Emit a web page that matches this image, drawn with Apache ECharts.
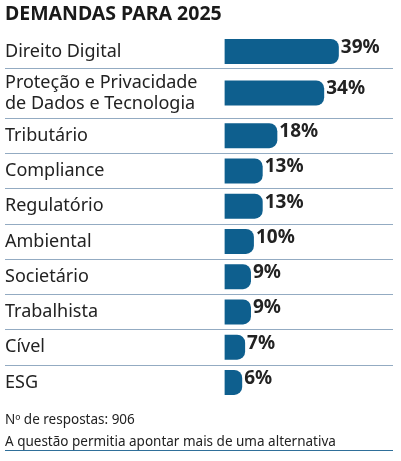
<!DOCTYPE html>
<html>
<head>
<meta charset="utf-8">
<script src="https://cdn.jsdelivr.net/npm/echarts@6/dist/echarts.min.js"></script>
<style>
  html, body { margin: 0; padding: 0; background: #fff; }
  #container { width: 401px; height: 461px; }
</style>
</head>
<body>
<div id="container"></div>
<script>
// dados do gráfico
var titleText = 'DEMANDAS PARA 2025';
var categories = ['Direito Digital', 'Proteção e Privacidade\nde Dados e Tecnologia', 'Tributário', 'Compliance',
  'Regulatório', 'Ambiental', 'Societário', 'Trabalhista', 'Cível', 'ESG'];
var values = [39, 34, 18, 13, 13, 10, 9, 9, 7, 6];
var notes = ['Nº de respostas: 906', 'A questão permitia apontar mais de uma alternativa'];

var myChart = echarts.init(document.getElementById('container'));

var barColor = '#0e5f8e';
var lineColor = '#93abc2';
var font = 'Noto Sans';

// primeira linha, segunda (duas linhas de texto), resto
var blocks = [
  { from: 0, to: 1, top: 35, height: 33 },
  { from: 1, to: 2, top: 68, height: 50 },
  { from: 2, to: 10, top: 118, height: 282 }
];

var grids = [], xAxes = [], yAxes = [], series = [];
blocks.forEach(function (b, i) {
  var n = b.to - b.from;
  var colors = ['transparent'];
  for (var k = 1; k < n; k++) colors.push(lineColor);
  colors.push(i < 2 ? lineColor : 'transparent');

  grids.push({ left: 5, right: 8, top: b.top, height: b.height });
  xAxes.push({
    type: 'value', gridIndex: i, min: -75, max: 57.5, show: false
  });
  yAxes.push({
    type: 'category', gridIndex: i, inverse: true,
    data: categories.slice(b.from, b.to),
    axisLine: { show: false },
    axisTick: { show: false },
    axisLabel: {
      inside: true, margin: 0, interval: 0,
      color: '#222', fontFamily: font, fontSize: 18, lineHeight: 21
    },
    splitLine: { show: true, interval: 0, lineStyle: { color: colors, width: 1 } }
  });
  series.push({
    type: 'bar', xAxisIndex: i, yAxisIndex: i,
    data: values.slice(b.from, b.to),
    barWidth: 25,
    itemStyle: { color: barColor, borderRadius: [0, 8, 8, 0] },
    label: {
      show: true, position: 'right', distance: 2, offset: [0, -4],
      formatter: '{c}%', color: '#222', fontFamily: font, fontWeight: 'bold', fontSize: 19
    }
  });
});

var option = {
  animation: false,
  title: [
    { text: titleText, left: 5, top: 4, padding: 0,
      textStyle: { color: '#1a1a1a', fontFamily: font, fontWeight: 'bold', fontSize: 19.5 } },
    { text: notes[0], left: 5, top: 413, padding: 0,
      textStyle: { color: '#222', fontFamily: font, fontWeight: 'normal', fontSize: 13.5 } },
    { text: notes[1], left: 5, top: 435, padding: 0,
      textStyle: { color: '#222', fontFamily: font, fontWeight: 'normal', fontSize: 13.5 } }
  ],
  grid: grids,
  xAxis: xAxes,
  yAxis: yAxes,
  series: series,
  graphic: [{
    type: 'line', shape: { x1: 5, y1: 450.5, x2: 393, y2: 450.5 },
    style: { stroke: '#2f6f99', lineWidth: 1 }
  }]
};
myChart.setOption(option);
</script>
</body>
</html>
